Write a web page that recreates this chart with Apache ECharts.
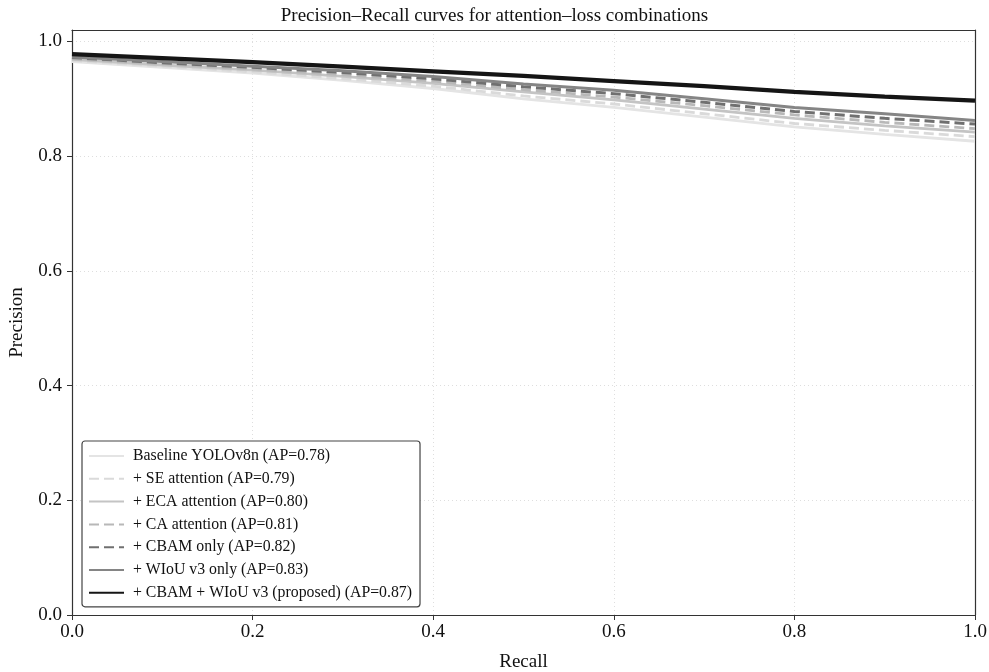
<!DOCTYPE html>
<html><head><meta charset="utf-8">
<script src="https://cdn.jsdelivr.net/npm/echarts@6/dist/echarts.min.js"></script>
<style>html,body{margin:0;padding:0;background:#fff}#c{width:989px;height:672px}</style>
</head><body><div id="c"></div>
<script>
const recall = [0.0, 0.1, 0.2, 0.3, 0.4, 0.5, 0.6, 0.7, 0.8, 0.9, 1.0];
const seriesNames = [
  'Baseline YOLOv8n (AP=0.78)',
  '+ SE attention (AP=0.79)',
  '+ ECA attention (AP=0.80)',
  '+ CA attention (AP=0.81)',
  '+ CBAM only (AP=0.82)',
  '+ WIoU v3 only (AP=0.83)',
  '+ CBAM + WIoU v3 (proposed) (AP=0.87)'
];
const baseline = [0.965, 0.955, 0.945, 0.932, 0.918, 0.900, 0.885, 0.868, 0.851, 0.838, 0.826];
const seAtt    = [0.967, 0.957, 0.947, 0.935, 0.922, 0.905, 0.891, 0.874, 0.857, 0.845, 0.834];
const ecaAtt   = [0.969, 0.959, 0.950, 0.939, 0.927, 0.912, 0.898, 0.882, 0.866, 0.853, 0.842];
const caAtt    = [0.970, 0.961, 0.952, 0.942, 0.931, 0.916, 0.903, 0.888, 0.872, 0.859, 0.848];
const cbamOnly = [0.972, 0.963, 0.955, 0.946, 0.935, 0.921, 0.909, 0.894, 0.878, 0.866, 0.856];
const wiouOnly = [0.973, 0.965, 0.957, 0.949, 0.939, 0.926, 0.915, 0.900, 0.885, 0.874, 0.862];
const proposed = [0.978, 0.971, 0.964, 0.956, 0.948, 0.940, 0.931, 0.922, 0.912, 0.904, 0.897];
const tickValues = [0, 0.2, 0.4, 0.6, 0.8, 1.0];

const allData = [baseline, seAtt, ecaAtt, caAtt, cbamOnly, wiouOnly, proposed];
const styles = [
  {color: '#e4e4e4', width: 2.8, type: 'solid'},
  {color: '#dadada', width: 2.8, type: [10, 5]},
  {color: '#c4c4c4', width: 2.8, type: 'solid'},
  {color: '#b8b8b8', width: 2.8, type: [10, 5]},
  {color: '#707070', width: 3, type: [10, 5]},
  {color: '#858585', width: 3, type: 'solid'},
  {color: '#151515', width: 4.2, type: 'solid'}
];
const font = 'Liberation Serif';
const series = allData.map((d, i) => ({
  name: seriesNames[i],
  type: 'line',
  xAxisIndex: 0, yAxisIndex: 0,
  data: d.map((v, j) => [recall[j], v]),
  showSymbol: false,
  symbol: 'none',
  z: 2 + i,
  lineStyle: {color: styles[i].color, width: styles[i].width, type: styles[i].type},
  itemStyle: {color: styles[i].color}
}));

const chart = echarts.init(document.getElementById('c'));
const frameAxis = {
  axisLine: {show: true, onZero: false, lineStyle: {color: '#333', width: 1.2}},
  axisTick: {show: false}, axisLabel: {show: false}, splitLine: {show: false}
};
chart.setOption({
  animation: false,
  backgroundColor: '#fff',
  title: {
    text: 'Precision–Recall curves for attention–loss combinations',
    left: 'center', top: 2,
    textStyle: {fontFamily: font, fontSize: 19, fontWeight: 'normal', color: '#111'}
  },
  grid: {left: 72, right: 14, top: 30, bottom: 57, containLabel: false, outerBoundsMode: 'none'},
  legend: {
    orient: 'vertical',
    left: 82, top: 441,
    padding: [7, 8, 6, 6],
    itemWidth: 35, itemHeight: 14, itemGap: 6.8,
    backgroundColor: '#fff',
    borderColor: '#444', borderWidth: 1.2, borderRadius: 3,
    itemStyle: {opacity: 0},
    textStyle: {fontFamily: font, fontSize: 15.8, color: '#111', padding: [0, 0, 0, 4]},
    data: seriesNames
  },
  xAxis: [{
    type: 'value', min: 0, max: 1, interval: 0.2,
    name: 'Recall', nameLocation: 'middle', nameGap: 38,
    nameTextStyle: {fontFamily: font, fontSize: 19, color: '#111'},
    axisLine: {show: true, onZero: false, lineStyle: {color: '#333', width: 1.2}},
    axisTick: {show: true, length: 5, lineStyle: {color: '#333'}},
    axisLabel: {fontFamily: font, fontSize: 19, color: '#111', margin: 8, formatter: v => v.toFixed(1)},
    splitLine: {show: true, lineStyle: {color: '#dedede', type: [1, 3], width: 1}}
  }, Object.assign({type: 'value', min: 0, max: 1, position: 'top'}, frameAxis)],
  yAxis: [{
    type: 'value', min: 0, max: 1.02, interval: 0.2,
    name: 'Precision', nameLocation: 'middle', nameGap: 45, nameRotate: 90,
    nameTextStyle: {fontFamily: font, fontSize: 19, color: '#111'},
    axisLine: {show: true, onZero: false, lineStyle: {color: '#333', width: 1.2}},
    axisTick: {show: true, length: 5, lineStyle: {color: '#333'}, customValues: tickValues},
    axisLabel: {fontFamily: font, fontSize: 19, color: '#111', margin: 10, formatter: v => v.toFixed(1), customValues: tickValues},
    splitLine: {show: true, lineStyle: {color: '#dedede', type: [1, 3], width: 1}}
  }, Object.assign({type: 'value', min: 0, max: 1.02, position: 'right'}, frameAxis)],
  series: series
});
</script></body></html>
